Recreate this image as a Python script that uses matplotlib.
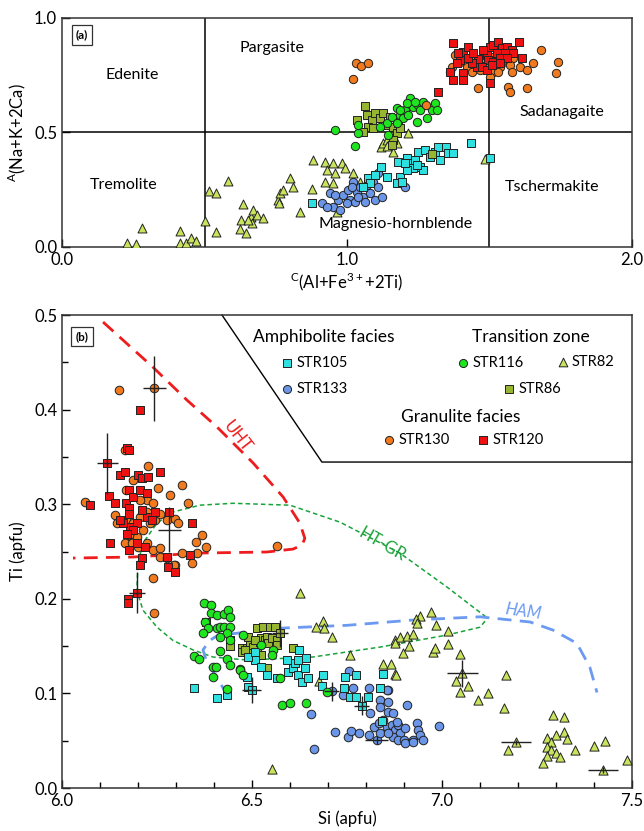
import numpy as np
import matplotlib
matplotlib.use("Agg")
import matplotlib.pyplot as plt
from matplotlib.ticker import MultipleLocator

plt.rcParams['font.family'] = ['Lato', 'DejaVu Sans']

# colours / markers per sample
STYLE = {
    'STR105': dict(marker='s', color='#2ee0e0'),
    'STR133': dict(marker='o', color='#6b96e8'),
    'STR116': dict(marker='o', color='#1ee61e'),
    'STR82': dict(marker='^', color='#c8e35c'),
    'STR86': dict(marker='s', color='#96b632'),
    'STR130': dict(marker='o', color='#f27a1e'),
    'STR120': dict(marker='s', color='#ee1111'),
}
# squares look bigger than circles at equal area, so scale them down a bit
SIZE_SCALE = {'o': 1.0, 's': 0.85, '^': 1.15}

# ---- panel (a): C(Al+Fe3+ +2Ti) vs A(Na+K+2Ca)
a_str82_x = [0.227, 0.260, 0.282, 0.414, 0.414, 0.435, 0.453, 0.470, 0.502, 0.517, 0.540, 0.540,
             0.584, 0.634, 0.627, 0.625, 0.646, 0.662, 0.671, 0.683, 0.706, 0.668, 0.654, 0.759,
             0.765, 0.762, 0.800, 0.812, 0.777, 0.835, 0.876, 0.882, 0.923, 0.952, 0.981, 0.929,
             0.958, 0.993, 1.022, 0.923, 0.952, 1.046, 0.964, 1.119, 1.128, 1.139, 1.163, 1.215,
             1.484, 1.174, 1.139]
a_str82_y = [0.019, 0.012, 0.084, 0.070, 0.016, 0.016, 0.039, 0.028, 0.115, 0.246, 0.234, 0.064,
             0.288, 0.188, 0.118, 0.077, 0.060, 0.132, 0.162, 0.140, 0.125, 0.106, 0.118, 0.205,
             0.234, 0.191, 0.300, 0.263, 0.249, 0.151, 0.252, 0.380, 0.373, 0.365, 0.368, 0.336,
             0.322, 0.344, 0.322, 0.285, 0.281, 0.285, 0.154, 0.438, 0.453, 0.467, 0.416, 0.496,
             0.383, 0.453, 0.441]

a_str133_x = [0.911, 0.940, 0.952, 0.970, 0.987, 1.005, 1.022, 1.034, 1.046, 1.057, 1.063, 1.081,
              1.092, 1.098, 1.110, 1.122, 1.011, 0.975, 1.028, 1.204, 1.069, 0.958, 0.929, 1.040,
              0.999, 1.110, 1.016]
a_str133_y = [0.191, 0.234, 0.176, 0.205, 0.227, 0.249, 0.285, 0.241, 0.263, 0.220, 0.198, 0.234,
              0.285, 0.205, 0.322, 0.220, 0.205, 0.162, 0.198, 0.263, 0.271, 0.227, 0.176, 0.220,
              0.191, 0.263, 0.263]

a_str105_x = [1.119, 1.073, 1.081, 1.055, 1.098, 1.139, 1.180, 1.186, 1.174, 1.192, 1.209, 1.221,
              1.239, 1.250, 1.256, 1.268, 1.233, 1.209, 1.274, 1.291, 1.309, 1.320, 1.326, 1.346,
              1.355, 1.373, 1.435, 1.502, 1.204, 1.244, 0.878]
a_str105_y = [0.351, 0.300, 0.278, 0.263, 0.314, 0.307, 0.373, 0.307, 0.278, 0.285, 0.387, 0.365,
              0.380, 0.416, 0.351, 0.336, 0.344, 0.336, 0.424, 0.394, 0.416, 0.438, 0.380, 0.438,
              0.409, 0.409, 0.453, 0.387, 0.365, 0.358, 0.194]

a_str116_x = [0.958, 1.040, 1.028, 1.040, 1.139, 1.157, 1.174, 1.186, 1.204, 1.198, 1.215, 1.221,
              1.233, 1.244, 1.250, 1.256, 1.268, 1.280, 1.297, 1.309, 1.315, 1.145, 1.116, 1.209,
              1.239, 1.174, 1.186]
a_str116_y = [0.511, 0.496, 0.442, 0.533, 0.540, 0.569, 0.606, 0.576, 0.598, 0.562, 0.576, 0.649,
              0.613, 0.547, 0.620, 0.598, 0.635, 0.562, 0.598, 0.627, 0.598, 0.489, 0.525, 0.627,
              0.635, 0.540, 0.598]

a_str86_x = [1.063, 1.034, 1.069, 1.087, 1.098, 1.116, 1.127, 1.139, 1.151, 1.163, 1.174, 1.180,
             1.186, 1.075, 1.092, 1.057, 1.297, 1.163, 1.157]
a_str86_y = [0.616, 0.555, 0.576, 0.555, 0.584, 0.562, 0.584, 0.533, 0.569, 0.525, 0.496, 0.540,
             0.518, 0.525, 0.518, 0.504, 0.406, 0.467, 0.445]

a_str130_x = [1.032, 1.049, 1.073, 1.020, 1.277, 1.379, 1.367, 1.361, 1.396, 1.420, 1.461, 1.467,
              1.490, 1.513, 1.537, 1.560, 1.584, 1.572, 1.566, 1.572, 1.607, 1.630, 1.633, 1.654,
              1.680, 1.741, 1.733, 1.443, 1.437, 1.408, 1.502, 1.531, 1.578, 1.549, 1.478, 1.513]
a_str130_y = [0.802, 0.790, 0.802, 0.735, 0.620, 0.838, 0.787, 0.766, 0.809, 0.787, 0.693, 0.773,
              0.795, 0.766, 0.787, 0.809, 0.824, 0.795, 0.700, 0.678, 0.787, 0.773, 0.693, 0.802,
              0.860, 0.806, 0.758, 0.817, 0.766, 0.751, 0.744, 0.766, 0.766, 0.817, 0.824, 0.831]

a_str120_x = [1.373, 1.408, 1.426, 1.461, 1.502, 1.513, 1.531, 1.543, 1.560, 1.578, 1.554, 1.605,
              1.613, 1.584, 1.525, 1.490, 1.478, 1.455, 1.437, 1.426, 1.396, 1.385, 1.361, 1.373,
              1.408, 1.408, 1.502, 1.320, 1.496, 1.513, 1.537, 1.560, 1.473, 1.490, 1.508, 1.537,
              1.443, 1.391]
a_str120_y = [0.889, 0.853, 0.875, 0.820, 0.875, 0.882, 0.897, 0.868, 0.875, 0.860, 0.846, 0.897,
              0.824, 0.846, 0.846, 0.838, 0.860, 0.787, 0.802, 0.824, 0.817, 0.802, 0.766, 0.729,
              0.758, 0.729, 0.715, 0.678, 0.817, 0.809, 0.824, 0.824, 0.787, 0.773, 0.795, 0.802,
              0.846, 0.846]

field_names = ['Edenite', 'Pargasite', 'Tremolite', 'Sadanagaite', 'Tschermakite', 'Magnesio-hornblende']
field_x = [0.245, 0.737, 0.215, 1.755, 1.72, 1.17]
field_y = [0.75, 0.87, 0.27, 0.59, 0.26, 0.10]

# ---- panel (b): Si vs Ti (apfu)
b_str130_x = [6.151, 6.243, 6.061, 6.166, 6.168, 6.227, 6.253, 6.284, 6.315, 6.332, 6.188, 6.139,
              6.168, 6.144, 6.188, 6.205, 6.223, 6.214, 6.197, 6.232, 6.245, 6.258, 6.276, 6.297,
              6.306, 6.223, 6.205, 6.240, 6.175, 6.166, 6.183, 6.201, 6.223, 6.240, 6.258, 6.258,
              6.276, 6.297, 6.315, 6.341, 6.354, 6.368, 6.379, 6.353, 6.240, 6.565, 6.243, 6.295]
b_str130_y = [0.4207, 0.4225, 0.302, 0.357, 0.315, 0.340, 0.317, 0.310, 0.320, 0.301, 0.326, 0.2886,
              0.2833, 0.280, 0.280, 0.287, 0.292, 0.2727, 0.2657, 0.280, 0.2833, 0.290, 0.2833, 0.284,
              0.280, 0.3044, 0.3044, 0.301, 0.2674, 0.2587, 0.2587, 0.255, 0.2587, 0.2516, 0.2534, 0.2445,
              0.2428, 0.2357, 0.248, 0.2375, 0.248, 0.2674, 0.255, 0.2604, 0.2216, 0.2558, 0.1846, 0.2357]

b_str120_x = [6.074, 6.119, 6.124, 6.153, 6.166, 6.175, 6.179, 6.126, 6.168, 6.139, 6.175, 6.188,
              6.201, 6.210, 6.227, 6.258, 6.205, 6.223, 6.175, 6.197, 6.188, 6.223, 6.236, 6.245,
              6.175, 6.197, 6.218, 6.210, 6.205, 6.276, 6.280, 6.297, 6.337, 6.341, 6.282, 6.170,
              6.177, 6.205, 6.210, 6.161, 6.170, 6.153, 6.197, 6.173, 6.173, 6.380]
b_str120_y = [0.2992, 0.3432, 0.3087, 0.3309, 0.3337, 0.315, 0.2762, 0.2587, 0.301, 0.301, 0.2957, 0.308,
              0.3309, 0.3274, 0.329, 0.3344, 0.315, 0.3115, 0.290, 0.280, 0.2727, 0.2868, 0.2833, 0.292,
              0.2516, 0.2587, 0.255, 0.2428, 0.2357, 0.2445, 0.234, 0.2287, 0.2463, 0.2805, 0.292, 0.3597,
              0.3573, 0.3996, 0.294, 0.280, 0.269, 0.2833, 0.2065, 0.200, 0.196, 0.176]

b_str116_x = [6.374, 6.391, 6.391, 6.407, 6.426, 6.438, 6.442, 6.376, 6.385, 6.372, 6.407, 6.416,
              6.426, 6.442, 6.433, 6.416, 6.442, 6.348, 6.361, 6.416, 6.433, 6.442, 6.468, 6.397,
              6.405, 6.398, 6.433, 6.525, 6.556, 6.552, 6.578, 6.600, 6.642, 6.697, 6.477, 6.468,
              6.477, 6.574]
b_str116_y = [0.1952, 0.1934, 0.1853, 0.1829, 0.1839, 0.1882, 0.1811, 0.1758, 0.1688, 0.1642, 0.1695, 0.1705,
              0.1705, 0.1705, 0.1642, 0.1593, 0.1564, 0.1399, 0.1364, 0.1452, 0.136, 0.130, 0.1254, 0.1283,
              0.1283, 0.117, 0.1047, 0.1512, 0.1459, 0.1406, 0.0877, 0.0895, 0.0902, 0.1018, 0.1617, 0.1247,
              0.1194, 0.116]

b_str86_x = [6.442, 6.442, 6.473, 6.473, 6.486, 6.495, 6.503, 6.512, 6.521, 6.525, 6.530, 6.534,
             6.539, 6.543, 6.547, 6.552, 6.561, 6.565, 6.565, 6.574, 6.499, 6.512, 6.525, 6.482,
             6.539, 6.609, 6.490, 6.508]
b_str86_y = [0.1564, 0.150, 0.1476, 0.1441, 0.1476, 0.1547, 0.1494, 0.1688, 0.1547, 0.1582, 0.1705, 0.1564,
             0.160, 0.153, 0.1705, 0.1582, 0.1705, 0.1564, 0.1512, 0.1635, 0.1423, 0.1441, 0.1406, 0.1459,
             0.1265, 0.1476, 0.160, 0.1564]

b_str105_x = [6.348, 6.409, 6.435, 6.486, 6.490, 6.499, 6.508, 6.490, 6.525, 6.539, 6.565, 6.591,
              6.595, 6.609, 6.613, 6.622, 6.625, 6.622, 6.631, 6.639, 6.642, 6.648, 6.686, 6.683,
              6.743, 6.745, 6.775, 6.758, 6.775, 6.789, 6.806, 6.837, 6.846, 6.841, 6.508]
b_str105_y = [0.1054, 0.0955, 0.0983, 0.1177, 0.1071, 0.1036, 0.1353, 0.1388, 0.1283, 0.1194, 0.116, 0.1353,
              0.123, 0.1265, 0.1318, 0.1353, 0.1459, 0.1194, 0.1124, 0.1265, 0.137, 0.116, 0.1194, 0.1078,
              0.106, 0.1177, 0.1194, 0.0965, 0.0965, 0.087, 0.0965, 0.1054, 0.1205, 0.0708, 0.1441]

b_str133_x = [6.655, 6.664, 6.710, 6.718, 6.740, 6.753, 6.760, 6.782, 6.755, 6.767, 6.809, 6.811,
              6.820, 6.828, 6.808, 6.837, 6.837, 6.859, 6.859, 6.859, 6.846, 6.837, 6.854, 6.868,
              6.876, 6.885, 6.889, 6.872, 6.859, 6.885, 6.903, 6.900, 6.903, 6.909, 6.924, 6.935,
              6.938, 6.942, 6.951, 6.993, 6.881, 6.872, 6.835, 6.854, 6.924]
b_str133_y = [0.0782, 0.0409, 0.1025, 0.0595, 0.0983, 0.0542, 0.0606, 0.0578, 0.1237, 0.1054, 0.1054, 0.079,
              0.0648, 0.0507, 0.056, 0.093, 0.086, 0.1036, 0.0912, 0.0807, 0.0719, 0.0578, 0.0648, 0.0666,
              0.0613, 0.0666, 0.0578, 0.0542, 0.0578, 0.0507, 0.0631, 0.0507, 0.0479, 0.0877, 0.0507, 0.069,
              0.0613, 0.056, 0.0507, 0.0657, 0.0701, 0.079, 0.0684, 0.1036, 0.049]

b_str82_x = [6.971, 6.942, 6.932, 6.935, 6.984, 7.017, 6.876, 6.889, 6.907, 6.924, 6.876, 6.914,
             6.897, 6.977, 6.982, 7.017, 7.047, 7.054, 7.037, 7.068, 7.047, 7.094, 7.122, 7.168,
             7.164, 6.846, 6.865, 6.876, 7.291, 7.321, 7.322, 7.328, 7.300, 7.276, 7.286, 7.276,
             7.287, 7.299, 7.276, 7.265, 7.311, 7.350, 7.401, 7.429, 7.423, 7.488, 7.195, 7.175,
             6.626, 6.688, 6.668, 6.689, 6.711, 6.758, 6.878, 6.677, 6.553]
b_str82_y = [0.1864, 0.1818, 0.1783, 0.1741, 0.1723, 0.1663, 0.1564, 0.160, 0.1607, 0.1625, 0.153, 0.1501,
             0.1424, 0.1441, 0.1476, 0.1522, 0.1416, 0.1212, 0.1134, 0.1081, 0.1018, 0.093, 0.1001, 0.1194,
             0.0842, 0.1311, 0.1311, 0.1202, 0.0772, 0.0747, 0.0595, 0.0518, 0.056, 0.0525, 0.0483, 0.0437,
             0.0402, 0.0366, 0.0338, 0.0261, 0.0331, 0.0402, 0.0447, 0.050, 0.019, 0.0296, 0.0483, 0.0402,
             0.2065, 0.1765, 0.1705, 0.1688, 0.160, 0.1411, 0.1194, 0.1134, 0.0201]

# analytical uncertainty crosses
err_x = [6.243, 6.119, 6.197, 6.282, 6.499, 6.574, 6.710, 6.789, 6.828, 7.054, 7.195, 7.423]
err_y = [0.4225, 0.3432, 0.2065, 0.273, 0.1036, 0.1635, 0.1025, 0.087, 0.0507, 0.1212, 0.0483, 0.019]
err_dx = [0.030, 0.028, 0.022, 0.030, 0.026, 0.022, 0.020, 0.020, 0.030, 0.040, 0.040, 0.040]
err_dy = [0.034, 0.032, 0.022, 0.024, 0.014, 0.014, 0.010, 0.010, 0.004, 0.014, 0.003, 0.003]

# thermometry fields
uht_x = [6.108, 6.239, 6.329, 6.408, 6.503, 6.582, 6.626, 6.639, 6.632, 6.608, 6.539, 6.363, 6.187, 6.029]
uht_y = [0.4926, 0.445, 0.410, 0.3816, 0.3436, 0.3076, 0.280, 0.264, 0.257, 0.2526, 0.2495, 0.2484, 0.2442, 0.2431]
htgr_x = [7.116, 7.013, 6.889, 6.732, 6.600, 6.450, 6.363, 6.292, 6.250, 6.213, 6.200, 6.197, 6.213,
          6.250, 6.292, 6.345, 6.397, 6.487, 6.660, 6.837, 7.013, 7.100, 7.116]
htgr_y = [0.1808, 0.2125, 0.2484, 0.281, 0.299, 0.301, 0.299, 0.2918, 0.280, 0.259, 0.238, 0.209, 0.188,
          0.170, 0.156, 0.146, 0.1385, 0.1353, 0.1385, 0.149, 0.1617, 0.170, 0.1776]
ham_x = [6.437, 6.408, 6.382, 6.371, 6.389, 6.408, 6.487, 6.574, 6.750, 6.924, 7.100, 7.232, 7.292,
         7.355, 7.389, 7.408]
ham_y = [0.0962, 0.117, 0.132, 0.146, 0.156, 0.161, 0.165, 0.169, 0.172, 0.1776, 0.181, 0.1755, 0.167,
         0.153, 0.128, 0.101]

# boundary of the legend area
legend_edge_x = [6.421, 6.684, 7.5]
legend_edge_y = [0.5, 0.3446, 0.3446]

panel_a = [('STR82', a_str82_x, a_str82_y), ('STR133', a_str133_x, a_str133_y),
           ('STR105', a_str105_x, a_str105_y), ('STR86', a_str86_x, a_str86_y),
           ('STR116', a_str116_x, a_str116_y), ('STR130', a_str130_x, a_str130_y),
           ('STR120', a_str120_x, a_str120_y)]
panel_b = [('STR130', b_str130_x, b_str130_y), ('STR120', b_str120_x, b_str120_y),
           ('STR82', b_str82_x, b_str82_y), ('STR133', b_str133_x, b_str133_y),
           ('STR86', b_str86_x, b_str86_y), ('STR105', b_str105_x, b_str105_y),
           ('STR116', b_str116_x, b_str116_y)]


def scatter(ax, name, x, y, s=36, **kw):
    st = STYLE[name]
    ax.scatter(x, y, s=s * SIZE_SCALE[st['marker']], marker=st['marker'], c=st['color'],
               edgecolors='#222222', linewidths=0.7, zorder=3, **kw)


fig = plt.figure(figsize=(6.44, 8.31), dpi=100)
ax1 = fig.add_axes([0.0963, 0.7028, 0.885, 0.2756])
ax2 = fig.add_axes([0.0963, 0.0517, 0.885, 0.5692])

# ---------- (a)
for name, x, y in panel_a:
    scatter(ax1, name, x, y, s=36)
ax1.axvline(0.5, color='k', lw=1.1, zorder=2)
ax1.axvline(1.5, color='k', lw=1.1, zorder=2)
ax1.axhline(0.5, color='k', lw=1.1, zorder=2)
for t, x, y in zip(field_names, field_x, field_y):
    ax1.text(x, y, t, ha='center', va='center', fontsize=11.5)
ax1.set_xlim(0, 2)
ax1.set_ylim(0, 1)
ax1.set_xticks([0, 1, 2])
ax1.set_xticklabels(['0.0', '1.0', '2.0'])
ax1.set_yticks([0, 0.5, 1])
ax1.set_yticklabels(['0.0', '0.5', '1.0'])
ax1.tick_params(direction='in', labelsize=12, length=6, width=1, top=False, right=False)
ax1.set_xlabel(r'$^{\mathregular{C}}$(Al+Fe$^{\mathregular{3+}}$+2Ti)', fontsize=12, labelpad=2)
ax1.set_ylabel(r'$^{\mathregular{A}}$(Na+K+2Ca)', fontsize=12, labelpad=4)
ax1.text(0.035, 0.925, '(a)', transform=ax1.transAxes, fontsize=8.5, fontweight='bold',
         ha='center', va='center',
         bbox=dict(boxstyle='square,pad=0.35', fc='white', ec='#333333', lw=0.9))

# ---------- (b)
ax2.plot(uht_x, uht_y, color='#ee1c1c', lw=2, dashes=(5, 3), zorder=2)
ax2.plot(htgr_x, htgr_y, color='#1aa33a', lw=1.1, dashes=(3, 2), zorder=2)
ax2.plot(ham_x, ham_y, color='#6b9af0', lw=2, dashes=(5, 3), zorder=2)
ax2.text(6.46, 0.371, 'UHT', color='#ee1c1c', fontsize=12, rotation=-52, ha='center', va='center')
ax2.text(6.842, 0.257, 'HT-GR', color='#1aa33a', fontsize=12, rotation=-30, ha='center', va='center')
ax2.text(7.213, 0.187, 'HAM', color='#6b9af0', fontsize=12, rotation=-8, style='italic',
         ha='center', va='center')

for name, x, y in panel_b:
    scatter(ax2, name, x, y, s=38)

ax2.errorbar(err_x, err_y, xerr=err_dx, yerr=err_dy, fmt='none', ecolor='#222222',
             elinewidth=1.0, capsize=0, zorder=4)

ax2.plot(legend_edge_x, legend_edge_y, color='k', lw=1.0, zorder=2, clip_on=False)

ax2.set_xlim(6.0, 7.5)
ax2.set_ylim(0.0, 0.5)
ax2.xaxis.set_major_locator(MultipleLocator(0.5))
ax2.xaxis.set_minor_locator(MultipleLocator(0.1))
ax2.yaxis.set_major_locator(MultipleLocator(0.1))
ax2.yaxis.set_minor_locator(MultipleLocator(0.05))
ax2.xaxis.set_major_formatter(lambda v, p: f'{v:.1f}')
ax2.yaxis.set_major_formatter(lambda v, p: f'{v:.1f}')
ax2.tick_params(which='major', direction='in', length=6, width=1, labelsize=12)
ax2.tick_params(which='minor', direction='in', length=4, width=1)
ax2.set_xlabel('Si (apfu)', fontsize=12, labelpad=1)
ax2.set_ylabel('Ti (apfu)', fontsize=12, labelpad=6)
ax2.text(0.035, 0.955, '(b)', transform=ax2.transAxes, fontsize=8.5, fontweight='bold',
         ha='center', va='center',
         bbox=dict(boxstyle='square,pad=0.35', fc='white', ec='#333333', lw=0.9))

# legend drawn by hand inside the corner box
heads = [('Amphibolite facies', 0.4596, 0.9535), ('Transition zone', 0.8228, 0.9535),
         ('Granulite facies', 0.70, 0.7844)]
for t, x, y in heads:
    ax2.text(x, y, t, transform=ax2.transAxes, fontsize=12.5, ha='center', va='center')
entries = [('STR105', 0.3947, 0.8985), ('STR133', 0.3947, 0.8436), ('STR116', 0.7035, 0.8985),
           ('STR82', 0.8789, 0.9006), ('STR86', 0.7842, 0.8436), ('STR130', 0.5737, 0.7357),
           ('STR120', 0.7386, 0.7357)]
for name, x, y in entries:
    st = STYLE[name]
    ax2.scatter([x], [y], s=34 * SIZE_SCALE[st['marker']], marker=st['marker'], c=st['color'],
                edgecolors='#222222', linewidths=0.7, transform=ax2.transAxes, zorder=5,
                clip_on=False)
    ax2.text(x + 0.016, y, name, transform=ax2.transAxes, fontsize=10.5, ha='left', va='center')

for ax in (ax1, ax2):
    for sp in ax.spines.values():
        sp.set_linewidth(1.1)
        sp.set_color('#333333')

fig.savefig('out.png', dpi=100)
